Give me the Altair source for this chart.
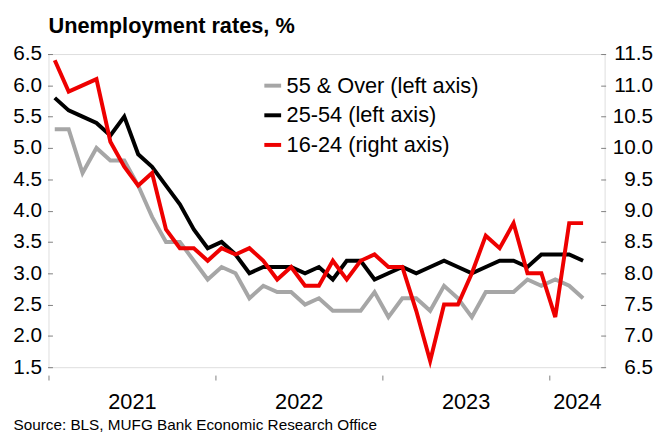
import altair as alt
import pandas as pd

# ---- data (monthly, Jan 2021 - Mar 2024) ----
months = [f"{y}-{m:02d}" for y in (2021, 2022, 2023, 2024) for m in range(1, 13)][:39]

age_55_over = [5.3, 5.3, 4.6, 5.0, 4.8, 4.8, 4.4, 3.9, 3.5, 3.5, 3.2, 2.9,
               3.1, 3.0, 2.6, 2.8, 2.7, 2.7, 2.5, 2.6, 2.4, 2.4, 2.4, 2.7,
               2.3, 2.6, 2.6, 2.4, 2.8, 2.6, 2.3, 2.7, 2.7, 2.7, 2.9, 2.8,
               2.9, 2.8, 2.6]
age_25_54 = [5.8, 5.6, 5.5, 5.4, 5.2, 5.5, 4.9, 4.7, 4.4, 4.1, 3.7, 3.4,
             3.5, 3.3, 3.0, 3.1, 3.1, 3.1, 3.0, 3.1, 2.9, 3.2, 3.2, 2.9,
             3.0, 3.1, 3.0, 3.1, 3.2, 3.1, 3.0, 3.1, 3.2, 3.2, 3.1, 3.3,
             3.3, 3.3, 3.2]
age_16_24 = [11.4, 10.9, 11.0, 11.1, 10.1, 9.7, 9.4, 9.6, 8.7, 8.4, 8.4, 8.2,
             8.4, 8.3, 8.4, 8.2, 7.9, 8.1, 7.8, 7.8, 8.2, 7.9, 8.2, 8.3,
             8.1, 8.1, 7.4, 6.6, 7.5, 7.5, 8.0, 8.6, 8.4, 8.8, 8.0, 8.0,
             7.3, 8.8, 8.8]

series_names = ["55 & Over (left axis)", "25-54 (left axis)", "16-24 (right axis)"]
series_colors = ["#A6A6A6", "#000000", "#EE0000"]

left_ticks = [1.5, 2.0, 2.5, 3.0, 3.5, 4.0, 4.5, 5.0, 5.5, 6.0, 6.5]
right_ticks = [6.5, 7.0, 7.5, 8.0, 8.5, 9.0, 9.5, 10.0, 10.5, 11.0, 11.5]

year_labels = ["2021", "2022", "2023", "2024"]
year_label_pos = [6, 18, 30, 38]
year_tick_pos = [0, 12, 24, 36]

title_text = "Unemployment rates, %"
source_text = "Source: BLS, MUFG Bank Economic Research Office"

FONT = "Liberation Sans"

# ---- tables ----
n = len(months)
t = [i + 0.45 for i in range(n)]
df_left = pd.DataFrame({
    "t": t + t,
    "month": months + months,
    "value": age_55_over + age_25_54,
    "series": [series_names[0]] * n + [series_names[1]] * n,
})
df_right = pd.DataFrame({
    "t": t,
    "month": months,
    "value": age_16_24,
    "series": [series_names[2]] * n,
})

label_expr = " : ".join(
    f"datum.value === {p} ? '{lab}'" for p, lab in zip(year_label_pos, year_labels)
) + " : ''"

x_enc = alt.X(
    "t:Q",
    scale=alt.Scale(domain=[0, 40], nice=False, zero=False),
    axis=alt.Axis(
        values=sorted(year_tick_pos + year_label_pos),
        labelExpr=label_expr,
        tickColor={"condition": {"test": "datum.value % 12 === 0", "value": "#7f7f7f"},
                   "value": "rgba(0,0,0,0)"},
        tickSize=5,
        offset=8,
        domain=False,
        grid=False,
        labelOverlap=False,
        labelFlush=False,
        labelPadding=12,
        labelFont=FONT,
        labelFontSize=22,
        labelColor="#000000",
        title=source_text,
        titleFont=FONT,
        titleFontSize=15.5,
        titleFontWeight="normal",
        titleColor="#000000",
        titleAnchor="start",
        titleAlign="left",
        titleBaseline="alphabetic",
        titleX=-36,
        titleY=55,
    ),
)

color_enc = alt.Color(
    "series:N",
    scale=alt.Scale(domain=series_names, range=series_colors),
    legend=alt.Legend(
        title=None,
        orient="none",
        legendX=216,
        legendY=21,
        symbolType="stroke",
        symbolSize=289,
        symbolStrokeWidth=4,
        labelFont=FONT,
        labelFontSize=22,
        labelColor="#000000",
        labelLimit=0,
        labelOffset=3,
        rowPadding=8,
    ),
)

left = alt.Chart(df_left).mark_line(strokeWidth=4).encode(
    x=x_enc,
    y=alt.Y(
        "value:Q",
        scale=alt.Scale(domain=[1.5, 6.5], nice=False, zero=False),
        axis=alt.Axis(
            orient="left", values=left_ticks, format=".1f", offset=-4,
            tickSize=5, tickColor="#7f7f7f", labelPadding=6, domain=False,
            grid=False, title=None, labelFont=FONT, labelFontSize=21,
            labelColor="#000000",
        ),
    ),
    color=color_enc,
    detail="series:N",
)

right = alt.Chart(df_right).mark_line(strokeWidth=4).encode(
    x=x_enc,
    y=alt.Y(
        "value:Q",
        scale=alt.Scale(domain=[6.5, 11.5], nice=False, zero=False),
        axis=alt.Axis(
            orient="right", values=right_ticks, format=".1f", offset=-4,
            tickSize=5, tickColor="#7f7f7f", labelPadding=47.5, labelAlign="right",
            domain=False, grid=False, title=None, labelFont=FONT,
            labelFontSize=21, labelColor="#000000",
        ),
    ),
    color=color_enc,
)

chart = (
    alt.layer(left, right)
    .resolve_scale(y="independent")
    .properties(
        width=563,
        height=317,
        padding={"left": 41, "top": 44, "right": 52, "bottom": 63},
        autosize=alt.AutoSizeParams(type="none"),
        title=alt.Title(
            title_text, anchor="start", frame="group", offset=5,
            font=FONT, fontSize=22, fontWeight="bold", color="#000000",
        ),
    )
    .configure_view(stroke=None)
    .configure(background="#ffffff")
)

chart.save("out.html", embed_options={"renderer": "svg", "actions": False})
